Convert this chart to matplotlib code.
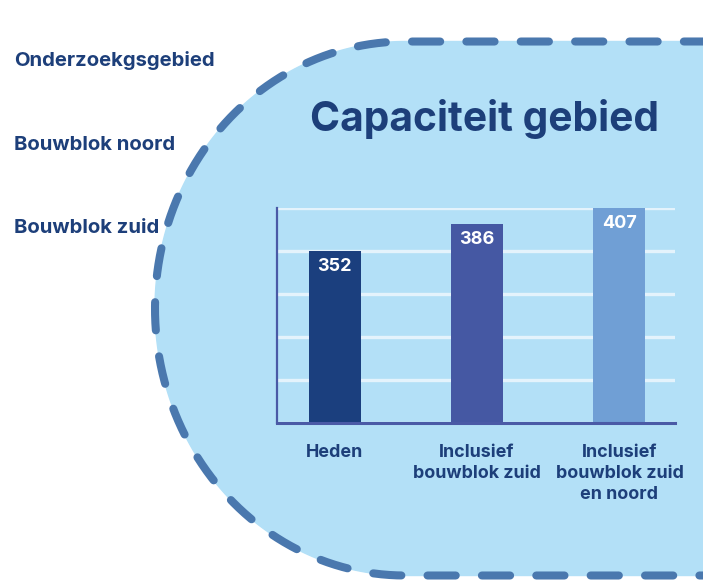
#!/usr/bin/env python
import numpy as np
import matplotlib
matplotlib.use("Agg")
import matplotlib.pyplot as plt

# data
categories = ["Heden", "Inclusief\nbouwblok zuid", "Inclusief\nbouwblok zuid\nen noord"]
capacity = [352, 386, 407]
bar_colors = ["#1b3f7e", "#4558a3", "#709fd5"]
side_labels = ["Onderzoekgsgebied", "Bouwblok noord", "Bouwblok zuid"]
title = "Capaciteit gebied"

navy = "#1d3f7a"
plt.rcParams["font.family"] = ["Inter", "DejaVu Sans"]

W, H = 703, 584
fig = plt.figure(figsize=(W / 100, H / 100), dpi=100)
fig.patch.set_facecolor("white")

# background layer in pixel coordinates
bg = fig.add_axes([0, 0, 1, 1])
bg.set_xlim(0, W)
bg.set_ylim(H, 0)
bg.axis("off")

# rounded blob with dashed outline
cx, cy, rx, ry = 405, 308.5, 250, 267
th = np.linspace(np.pi / 2, 3 * np.pi / 2, 200)
ex = cx + rx * np.cos(th)
ey = cy - ry * np.sin(th)
px = np.concatenate([[720], ex, [720]])
py = np.concatenate([[cy - ry], ey, [cy + ry]])
bg.fill(px, py, color="#b3e0f7", zorder=1)
bg.plot(px, py, color="#4a78ae", lw=5.8, solid_capstyle="round",
        dash_capstyle="round", linestyle=(1.0, (3.5, 3.25)), zorder=2)

# side labels
for lab, yb in zip(side_labels, [66, 150, 233]):
    bg.text(14, yb, lab, fontsize=14.6, fontweight="bold", color=navy,
            ha="left", va="baseline")

# title
bg.text(485, 131, title, fontsize=29.3, fontweight="bold", color=navy,
        ha="center", va="baseline")

# bar chart
ax = fig.add_axes([277 / W, 1 - 423 / H, 398 / W, 215 / H])
ax.set_facecolor("none")
x = np.arange(len(categories))
bars = ax.bar(x, capacity, width=0.365, color=bar_colors, zorder=3, bottom=0)
ax.set_xlim(-0.405, 2.39)
ymin, ymax = 132, 407
ax.set_ylim(ymin, ymax)
ax.set_yticks(np.linspace(ymin, ymax, 6))
ax.yaxis.grid(True, color="#e4f3fc", lw=2.4, zorder=0)
ax.set_yticklabels([])
ax.tick_params(axis="both", length=0)
ax.set_xticks(x)
ax.set_xticklabels(categories, fontsize=12.9, fontweight="bold", color=navy,
                   linespacing=1.3, va="top")
ax.tick_params(axis="x", pad=15)
for s in ["top", "right"]:
    ax.spines[s].set_visible(False)
ax.spines["left"].set_color("#4a5aa6")
ax.spines["left"].set_linewidth(1.6)
ax.spines["bottom"].set_color("#4a5aa6")
ax.spines["bottom"].set_linewidth(2.2)
ax.spines["left"].set_zorder(4)
ax.spines["bottom"].set_zorder(4)

for xi, v in zip(x, capacity):
    ax.annotate(str(v), (xi, v), xytext=(0, -5), textcoords="offset points",
                ha="center", va="top", color="white", fontsize=13,
                fontweight="bold", zorder=5)

fig.savefig("out.png", dpi=100)
